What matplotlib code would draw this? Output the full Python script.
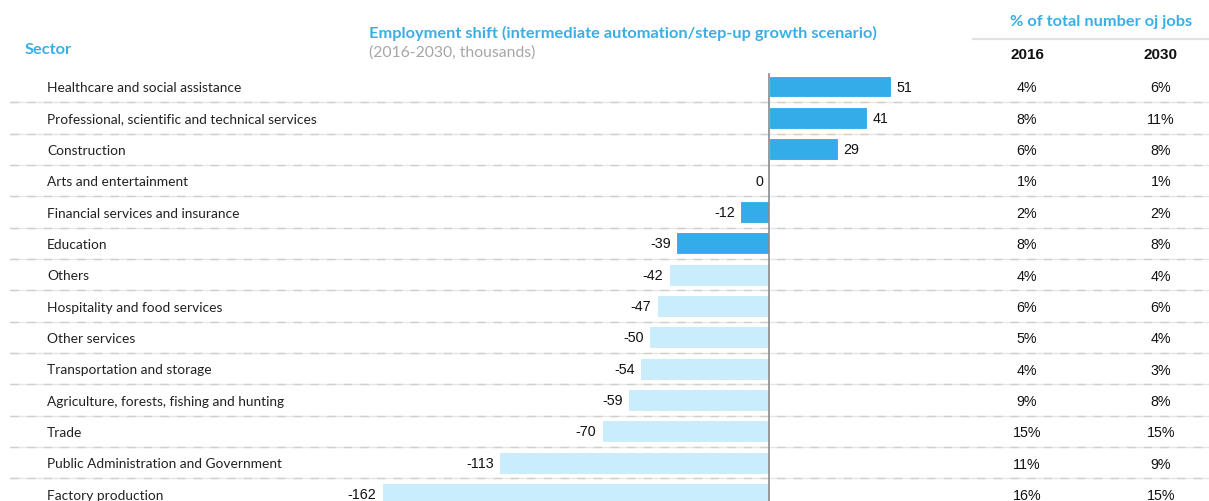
import matplotlib
matplotlib.use("Agg")
import matplotlib.pyplot as plt
from matplotlib.transforms import blended_transform_factory

sectors = [
    "Healthcare and social assistance",
    "Professional, scientific and technical services",
    "Construction",
    "Arts and entertainment",
    "Financial services and insurance",
    "Education",
    "Others",
    "Hospitality and food services",
    "Other services",
    "Transportation and storage",
    "Agriculture, forests, fishing and hunting",
    "Trade",
    "Public Administration and Government",
    "Factory production",
]
shift = [51, 41, 29, 0, -12, -39, -42, -47, -50, -54, -59, -70, -113, -162]
share_2016 = ["4%", "8%", "6%", "1%", "2%", "8%", "4%", "6%", "5%", "4%", "9%", "15%", "11%", "16%"]
share_2030 = ["6%", "11%", "8%", "1%", "2%", "8%", "4%", "6%", "4%", "3%", "8%", "15%", "9%", "15%"]
highlighted = 6  # first rows drawn in the strong blue

W, H = 1209, 502
BLUE = "#35ACEA"
LIGHT = "#C9EDFB"
TITLE = "#3AAEE6"
GREY = "#A6A6A6"
LABEL_FONT = ["Lato", "DejaVu Sans"]
NUM_FONT = ["Liberation Sans", "DejaVu Sans"]

fig = plt.figure(figsize=(W / 100, H / 100), dpi=100)
ax = fig.add_axes([0, 0, 1, 1])

# x in thousands of jobs, y in row index (row 0 at top)
zero_px, px_per_unit = 769, 2.39
row0_px, pitch = 87.5, 31.35
ax.set_xlim(-zero_px / px_per_unit, (W - zero_px) / px_per_unit)
ax.set_ylim((H - row0_px) / pitch, -row0_px / pitch)
ax.axis("off")

fx = blended_transform_factory(ax.transAxes, ax.transData)  # x: fraction, y: rows
def fxp(px):
    return px / W

n = len(sectors)
rows = list(range(n))

# row separators: pale solid line with darker dashes on top
for i in range(n - 1):
    y = i + 0.5
    ax.plot([fxp(10), 1], [y, y], transform=fx, color="#E6E6E6", lw=1.0, zorder=1)
    ax.plot([fxp(10), 1], [y, y], transform=fx, color="#CFCFCF", lw=1.0,
            dashes=(6, 6), zorder=1)

colors = [BLUE if i < highlighted else LIGHT for i in rows]
ax.barh(rows, shift, height=0.7, color=colors, edgecolor="white", linewidth=0.8, zorder=2)

# zero axis
ax.plot([0, 0], [-0.4, n], color="#8A8A8A", lw=1.2, zorder=3)

for i, (name, v, a, b) in enumerate(zip(sectors, shift, share_2016, share_2030)):
    ax.text(fxp(47), i + 0.02, name, transform=fx, ha="left", va="center",
            fontsize=9.9, family=LABEL_FONT, color="#222222")
    if v > 0:
        ax.text(v + 2.2, i, f"{v}", ha="left", va="center", fontsize=10.3,
                family=NUM_FONT, color="#111111")
    else:
        ax.text(min(v, 0) - 2.2, i, f"{v}", ha="right", va="center", fontsize=10.3,
                family=NUM_FONT, color="#111111")
    ax.text(fxp(1027), i + 0.03, a, transform=fx, ha="center", va="center",
            fontsize=10.3, family=NUM_FONT, color="#111111")
    ax.text(fxp(1161), i + 0.03, b, transform=fx, ha="center", va="center",
            fontsize=10.3, family=NUM_FONT, color="#111111")

# headers
fig.text(fxp(25), 1 - 50 / H, "Sector", ha="left", va="center", fontsize=11.8,
         fontweight="bold", family=LABEL_FONT, color=TITLE)
fig.text(fxp(369), 1 - 33 / H,
         "Employment shift (intermediate automation/step-up growth scenario)",
         ha="left", va="center", fontsize=11.8, fontweight="bold",
         family=LABEL_FONT, color=TITLE)
fig.text(fxp(369), 1 - 53 / H, "(2016-2030, thousands)", ha="left", va="center",
         fontsize=11.3, family=LABEL_FONT, color=GREY)
fig.text(fxp(1101), 1 - 22 / H, "% of total number oj jobs", ha="center",
         va="center", fontsize=11.8, fontweight="bold", family=LABEL_FONT, color=TITLE)
fig.add_artist(plt.Line2D([fxp(973), 1], [1 - 40 / H, 1 - 40 / H],
                          color="#E2E2E2", lw=1.6))
fig.text(fxp(1027), 1 - 55 / H, "2016", ha="center", va="center", fontsize=11,
         fontweight="bold", family=NUM_FONT, color="#111111")
fig.text(fxp(1161), 1 - 55 / H, "2030", ha="center", va="center", fontsize=11,
         fontweight="bold", family=NUM_FONT, color="#111111")

fig.savefig("out.png", dpi=100)
